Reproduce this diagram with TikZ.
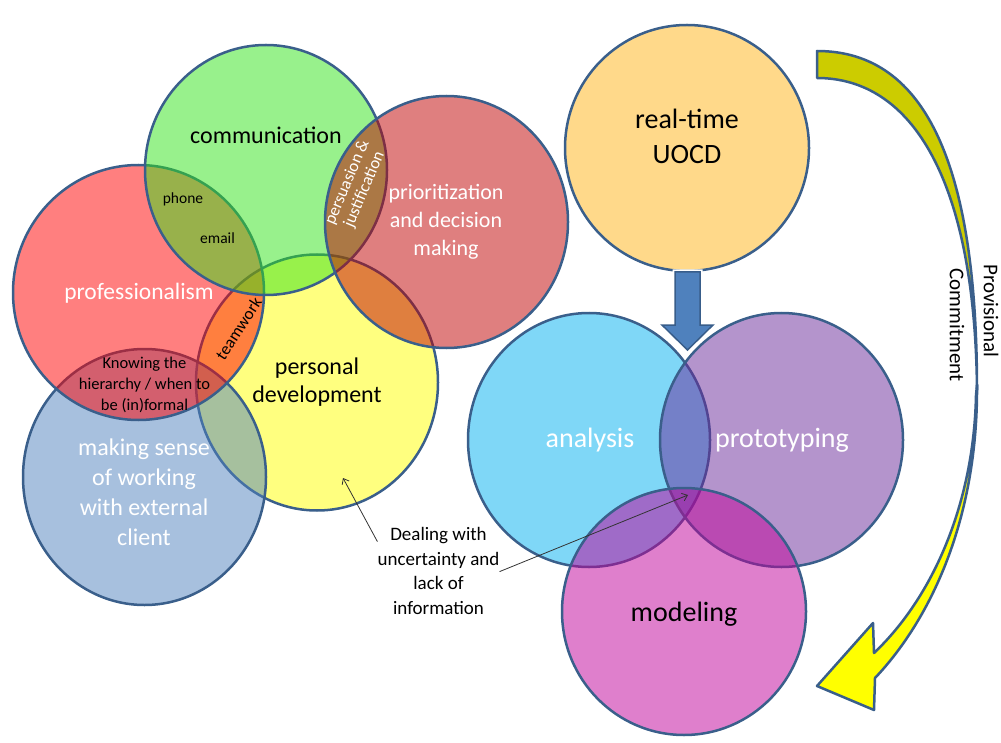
\documentclass[tikz,border=0pt]{standalone}
\usepackage{fontspec}
\setmainfont{Carlito}
\usetikzlibrary{arrows.meta}
\definecolor{edge}{HTML}{3A5F8B}
\definecolor{persdevC}{RGB}{255,255,0}
\definecolor{makingC}{HTML}{4F81BD}
\definecolor{profC}{RGB}{255,0,0}
\definecolor{commC}{RGB}{50,228,25}
\definecolor{priorC}{HTML}{C00000}
\definecolor{uocdC}{RGB}{255,180,22}
\definecolor{analysisC}{HTML}{00B0F0}
\definecolor{protoC}{RGB}{106,42,154}
\definecolor{modelC}{RGB}{192,0,153}
\definecolor{arrowblue}{HTML}{4F81BD}
\definecolor{arrowedge}{HTML}{385D8A}
\definecolor{olivey}{RGB}{204,204,0}
\definecolor{brightyellow}{RGB}{255,255,0}
\begin{document}
\begin{tikzpicture}[x=1pt,y=-1pt,
  blob/.style={fill opacity=0.5, draw=edge, line width=2.5pt},
  lbl/.style={align=center, inner sep=0pt},
  ann/.style={draw=black!80, line width=0.8pt, -{Straight Barb[length=5pt,width=8pt]}},
  curvearrow/.style={draw=edge, line width=2.5pt, line join=round},
]
\useasboundingbox (0,0) rectangle (1001,743);
% left cluster
\filldraw[blob, fill=persdevC] (317,382.5) ellipse [x radius=121, y radius=128];
\filldraw[blob, fill=makingC] (144.5,477) ellipse [x radius=121.5, y radius=128];
\filldraw[blob, fill=profC] (138.5,292.5) ellipse [x radius=125.5, y radius=127.5];
\filldraw[blob, fill=commC] (266,170) ellipse [x radius=121, y radius=125];
\filldraw[blob, fill=priorC] (446.5,222) ellipse [x radius=121.5, y radius=126];
% right cluster
\filldraw[blob, fill=uocdC] (687,148) ellipse [x radius=122, y radius=123];
\filldraw[blob, fill=analysisC] (589,440) ellipse [x radius=121, y radius=127];
\filldraw[blob, fill=protoC] (781.5,440) ellipse [x radius=121.5, y radius=127];
\filldraw[blob, fill=modelC] (684,611.5) ellipse [x radius=122, y radius=123.5];
% blue arrow
\draw[white, line width=5pt, line join=miter] (675,272) -- (700,272) -- (700,325) -- (713,325) -- (687.5,350) -- (662,325) -- (675,325) -- cycle;
\filldraw[fill=arrowblue, draw=arrowedge, line width=1.5pt, line join=miter] (675,272) -- (700,272) -- (700,325) -- (713,325) -- (687.5,350) -- (662,325) -- (675,325) -- cycle;
% labels
\node[lbl, font=\fontsize{24}{29}\selectfont] (comm) at (266,135) {communication};
\node[lbl, font=\fontsize{15.5}{18}\selectfont] (phone) at (183,199) {phone};
\node[lbl, font=\fontsize{15.5}{18}\selectfont] (email) at (217.5,238) {email};
\node[lbl, text=white, rotate=67, font=\fontsize{17}{18.5}\selectfont] (pers) at (356,186) {persuasion \&\\justification};
\node[lbl, text=white, font=\fontsize{22}{28}\selectfont] (prio) at (446,222) {prioritization\\and decision\\making};
\node[lbl, text=white, font=\fontsize{23.5}{28}\selectfont] (prof) at (139,293.5) {professionalism};
\node[lbl, rotate=57, font=\fontsize{17}{18}\selectfont] (team) at (238.5,328.5) {teamwork};
\node[lbl, font=\fontsize{16.5}{21}\selectfont] (know) at (144.5,385) {Knowing the\\hierarchy / when to\\be (in)formal};
\node[lbl, font=\fontsize{24}{28}\selectfont] (pd) at (317,382) {personal\\development};
\node[lbl, text=white, font=\fontsize{24}{30}\selectfont] (ms) at (144,492) {making sense\\of working\\with external\\client};
\node[lbl, font=\fontsize{28}{35}\selectfont] (uocd) at (687,136.5) {real-time\\UOCD};
\node[lbl, text=white, font=\fontsize{28}{34}\selectfont] (ana) at (590,440) {analysis};
\node[lbl, text=white, font=\fontsize{28}{34}\selectfont] (proto) at (782,440) {prototyping};
\node[lbl, font=\fontsize{28}{34}\selectfont] (model) at (684,614) {modeling};
\node[lbl, font=\fontsize{19}{24.7}\selectfont] (deal) at (438.5,571) {Dealing with\\uncertainty and\\lack of\\information};
\node[lbl, rotate=-90, font=\fontsize{21}{25}\selectfont] (commit) at (957,325) {Commitment};
\node[lbl, rotate=-90, font=\fontsize{21}{25}\selectfont] (prov) at (991,311) {Provisional};
% annotation arrows
\coordinate (tipPD) at (343,478);
\coordinate (tipAM) at (688,495);
\draw[ann] ([yshift=-14.5pt]deal.north west) -- (tipPD);
\draw[ann] ([yshift=-44.5pt]deal.north east) -- (tipAM);
% curved arrow
\filldraw[curvearrow, fill=olivey] (817,51) .. controls (928,51) and (977,170) .. (977,390) .. controls (975,180) and (912,78) .. (817,78) -- cycle;
\filldraw[curvearrow, fill=brightyellow] (977,385) .. controls (978,520) and (930,620) .. (875,678) -- (874,710) -- (817,686) -- (873,623) -- (874,653) .. controls (935,595) and (974,500) .. (976,395) -- cycle;
\end{tikzpicture}
\end{document}
